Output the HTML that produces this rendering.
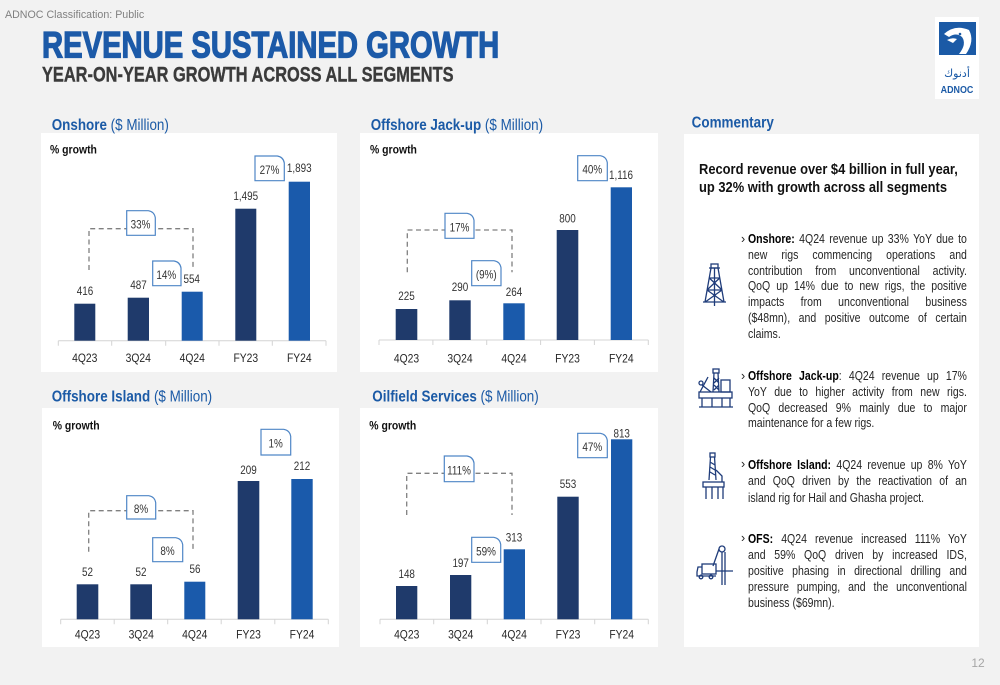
<!DOCTYPE html>
<html><head><meta charset="utf-8">
<style>
html,body{margin:0;padding:0;}
body{width:1000px;height:685px;background:#f2f2f2;position:relative;overflow:hidden;font-family:"Liberation Sans",sans-serif;}
svg{position:absolute;left:0;top:0;}
svg text{font-family:"Liberation Sans",sans-serif;}
.cat{font-size:12px;fill:#262626;text-anchor:middle;transform-box:fill-box;transform-origin:50% 50%;transform:scaleX(.86);}
.val{font-size:11.5px;fill:#333;text-anchor:middle;transform-box:fill-box;transform-origin:50% 50%;transform:scaleX(.86);}
.gr{font-size:12px;font-weight:bold;fill:#111;transform-box:fill-box;transform-origin:0 50%;transform:scaleX(.87);}
.tt{font-size:16px;fill:#1b5aa6;transform-box:fill-box;transform-origin:0 50%;transform:scaleX(.84);}
.tt tspan.b{font-weight:bold;}
.dk{fill:#1f3a6b;}
.lt{fill:#1a5aab;}
.bx{fill:#fff;stroke:#4f86c6;stroke-width:1.2;}
.br{fill:none;stroke:#808080;stroke-width:1.3;stroke-dasharray:5 3.5;}
.ax{stroke:#d4d4d4;stroke-width:1;fill:none;}
.ic{fill:none;stroke:#1f3c7a;stroke-width:1.3;}
.hl{position:absolute;left:699px;top:161px;font-weight:bold;font-size:15px;line-height:18.3px;color:#111;white-space:nowrap;transform:scaleX(.86);transform-origin:0 0;}
.p{position:absolute;left:748px;width:260px;font-size:12.5px;color:#262626;transform:scaleX(.842);transform-origin:0 0;}
.p div{text-align:justify;text-align-last:justify;white-space:normal;}
.p div.e{text-align-last:left;}
.p b{color:#000;}
.bu{position:absolute;left:741px;font-size:12.5px;color:#262626;}
</style></head>
<body>
<svg width="1000" height="685" viewBox="0 0 1000 685">
  <!-- header -->
  <text x="5" y="18" style="font-size:11px;fill:#808080;transform-box:fill-box;transform-origin:0 50%;transform:scaleX(.97)">ADNOC Classification: Public</text>
  <text x="42" y="57.3" style="font-size:37px;font-weight:bold;fill:#1c5aa8;stroke:#1c5aa8;stroke-width:1.3;transform-box:fill-box;transform-origin:0 50%;transform:scaleX(.79)">REVENUE SUSTAINED GROWTH</text>
  <text x="42" y="81.7" style="font-size:21px;font-weight:bold;fill:#3b3b3b;stroke:#3b3b3b;stroke-width:.4;transform-box:fill-box;transform-origin:0 50%;transform:scaleX(.78)">YEAR-ON-YEAR GROWTH ACROSS ALL SEGMENTS</text>

  <!-- logo -->
  <rect x="935" y="17" width="44" height="82" fill="#fff"/>
  <rect x="939" y="22" width="37" height="33" fill="#1b5aa6"/>
  <path d="M944 34 Q955 24 969 30 Q975 41 966 54 L959 54 Q967 44 962 37 Q956 32 949 37 Z" fill="#fff"/>
  <path d="M947 40 Q952 37 957 39 L953 43 Z" fill="#fff"/>
  <circle cx="960" cy="34" r="1.3" fill="#1b5aa6"/>
  <text x="957" y="77" text-anchor="middle" style="font-family:'DejaVu Sans',sans-serif;font-size:11px;fill:#1b5aa6">أدنوك</text>
  <text x="957" y="93" text-anchor="middle" style="font-size:10.5px;font-weight:bold;fill:#1b5aa6;transform-box:fill-box;transform-origin:50% 50%;transform:scaleX(.85)">ADNOC</text>

  <!-- panels -->
  <rect x="41" y="133" width="296" height="239" fill="#fff"/>
  <rect x="360" y="133" width="298" height="239" fill="#fff"/>
  <rect x="42" y="408" width="297" height="239" fill="#fff"/>
  <rect x="360" y="408" width="298" height="239" fill="#fff"/>
  <rect x="684" y="134" width="295" height="513" fill="#fff"/>

  <!-- titles -->
  <text class="tt" x="51.7" y="130"><tspan class="b">Onshore</tspan> ($ Million)</text>
  <text class="tt" x="370.7" y="130"><tspan class="b">Offshore Jack-up</tspan> ($ Million)</text>
  <text class="tt" x="51.7" y="401.4"><tspan class="b">Offshore Island</tspan> ($ Million)</text>
  <text class="tt" x="372.3" y="401.4"><tspan class="b">Oilfield Services</tspan> ($ Million)</text>
  <text class="tt" x="691.7" y="127.4"><tspan class="b">Commentary</tspan></text>

  <!-- ===== Onshore ===== -->
  <text class="gr" x="50" y="153.3">% growth</text>
  <path class="ax" d="M58.3 340.7 H326 M58.3 340.7 v5 M111.7 340.7 v5 M165.7 340.7 v5 M219 340.7 v5 M272.3 340.7 v5 M326 340.7 v5"/>
  <rect class="dk" x="74.3" y="303.7" width="21" height="37"/>
  <rect class="dk" x="127.7" y="297.7" width="21.3" height="43"/>
  <rect class="lt" x="181.7" y="291.7" width="21" height="49"/>
  <rect class="dk" x="235.3" y="208.7" width="21" height="132"/>
  <rect class="lt" x="288.7" y="181.7" width="21.3" height="159"/>
  <text class="val" x="85" y="295.2">416</text>
  <text class="val" x="138.5" y="289.2">487</text>
  <text class="val" x="191.7" y="283.2">554</text>
  <text class="val" x="245.8" y="200.2">1,495</text>
  <text class="val" x="299.3" y="172.2">1,893</text>
  <path class="br" d="M89 270 V228.7 H193 V270"/>
  <path class="bx" d="M126.7 210.7 H148.3 Q154.3 211.7 155.3 217.7 V235.3 H126.7Z"/>
  <text class="val" x="140.5" y="228.4">33%</text>
  <path class="bx" d="M152.7 261 H174 Q180 262 181 268 V285.7 H152.7Z"/>
  <text class="val" x="166.3" y="278.8">14%</text>
  <path class="bx" d="M255 156 H277.3 Q283.3 157 284.3 163 V180.7 H255Z"/>
  <text class="val" x="269.5" y="173.8">27%</text>
  <text class="cat" x="84.8" y="362.1">4Q23</text>
  <text class="cat" x="138.3" y="362.1">3Q24</text>
  <text class="cat" x="192.2" y="362.1">4Q24</text>
  <text class="cat" x="245.8" y="362.1">FY23</text>
  <text class="cat" x="299.3" y="362.1">FY24</text>

  <!-- ===== Offshore Jack-up ===== -->
  <text class="gr" x="370" y="153.6">% growth</text>
  <path class="ax" d="M379 340 H648.3 M379 340 v5 M432.9 340 v5 M486.7 340 v5 M540.6 340 v5 M594.4 340 v5 M648.3 340 v5"/>
  <rect class="dk" x="395.7" y="309" width="21.6" height="31"/>
  <rect class="dk" x="449.3" y="300.3" width="21.4" height="39.7"/>
  <rect class="lt" x="503.3" y="303.3" width="21.4" height="36.7"/>
  <rect class="dk" x="556.7" y="230" width="21.6" height="110"/>
  <rect class="lt" x="610.7" y="187.3" width="21.3" height="152.7"/>
  <text class="val" x="406.5" y="299.9">225</text>
  <text class="val" x="460" y="291.2">290</text>
  <text class="val" x="514" y="295.9">264</text>
  <text class="val" x="567.5" y="222.5">800</text>
  <text class="val" x="621" y="179.2">1,116</text>
  <path class="br" d="M407.3 272.3 V230 H512 V272.3"/>
  <path class="bx" d="M445 213.3 H467 Q473 214.3 474 220.3 V238.3 H445Z"/>
  <text class="val" x="459.5" y="231.3">17%</text>
  <path class="bx" d="M471.7 260.7 H494 Q500 261.7 501 267.7 V285.7 H471.7Z"/>
  <text class="val" x="486.3" y="278.7">(9%)</text>
  <path class="bx" d="M577.7 155.7 H600.3 Q606.3 156.7 607.3 162.7 V180.7 H577.7Z"/>
  <text class="val" x="592.3" y="173.7">40%</text>
  <text class="cat" x="406.5" y="362.7">4Q23</text>
  <text class="cat" x="460" y="362.7">3Q24</text>
  <text class="cat" x="514" y="362.7">4Q24</text>
  <text class="cat" x="567.5" y="362.7">FY23</text>
  <text class="cat" x="621.3" y="362.7">FY24</text>

  <!-- ===== Offshore Island ===== -->
  <text class="gr" x="52.7" y="429.3">% growth</text>
  <path class="ax" d="M60.7 619.3 H328.3 M60.7 619.3 v5 M114.2 619.3 v5 M167.7 619.3 v5 M221.2 619.3 v5 M274.8 619.3 v5 M328.3 619.3 v5"/>
  <rect class="dk" x="76.7" y="584.3" width="21.6" height="35"/>
  <rect class="dk" x="130.3" y="584.3" width="21.7" height="35"/>
  <rect class="lt" x="184.3" y="581.7" width="21" height="37.6"/>
  <rect class="dk" x="237.7" y="481" width="21.6" height="138.3"/>
  <rect class="lt" x="291.3" y="479" width="21.4" height="140.3"/>
  <text class="val" x="87.5" y="575.9">52</text>
  <text class="val" x="141" y="575.9">52</text>
  <text class="val" x="195" y="573.2">56</text>
  <text class="val" x="248.5" y="474.2">209</text>
  <text class="val" x="302" y="470.2">212</text>
  <path class="br" d="M88.7 551.7 V510.7 H193 V551.7"/>
  <path class="bx" d="M126.7 495.7 H148.7 Q154.7 496.7 155.7 502.7 V519 H126.7Z"/>
  <text class="val" x="141" y="512.8">8%</text>
  <path class="bx" d="M152.7 537.7 H175.7 Q181.7 538.7 182.7 544.7 V561.7 H152.7Z"/>
  <text class="val" x="167.5" y="555.2">8%</text>
  <path class="bx" d="M261 429.3 H283.7 Q289.7 430.3 290.7 436.3 V455 H261Z"/>
  <text class="val" x="275.6" y="447.7">1%</text>
  <text class="cat" x="87.5" y="638.7">4Q23</text>
  <text class="cat" x="141.2" y="638.7">3Q24</text>
  <text class="cat" x="194.8" y="638.7">4Q24</text>
  <text class="cat" x="248.5" y="638.7">FY23</text>
  <text class="cat" x="302" y="638.7">FY24</text>

  <!-- ===== Oilfield Services ===== -->
  <text class="gr" x="369.3" y="429.3">% growth</text>
  <path class="ax" d="M380 619.3 H648.3 M380 619.3 v5 M433.7 619.3 v5 M487.3 619.3 v5 M541 619.3 v5 M594.7 619.3 v5 M648.3 619.3 v5"/>
  <rect class="dk" x="396" y="586" width="21.3" height="33.3"/>
  <rect class="dk" x="450" y="575" width="21.3" height="44.3"/>
  <rect class="lt" x="503.7" y="549.3" width="21.3" height="70"/>
  <rect class="dk" x="557.3" y="496.7" width="21.4" height="122.6"/>
  <rect class="lt" x="611" y="439.3" width="21.3" height="180"/>
  <text class="val" x="406.7" y="578.2">148</text>
  <text class="val" x="460.7" y="566.9">197</text>
  <text class="val" x="514" y="541.5">313</text>
  <text class="val" x="568" y="488.2">553</text>
  <text class="val" x="621.7" y="437.5">813</text>
  <path class="br" d="M406.7 515 V473.3 H512 V515"/>
  <path class="bx" d="M444.3 456 H467 Q473 457 474 463 V481.7 H444.3Z"/>
  <text class="val" x="459" y="474.3">111%</text>
  <path class="bx" d="M471.7 537.3 H493.7 Q499.7 538.3 500.7 544.3 V562.3 H471.7Z"/>
  <text class="val" x="486" y="555.3">59%</text>
  <path class="bx" d="M577.7 433.3 H600.3 Q606.3 434.3 607.3 440.3 V457.7 H577.7Z"/>
  <text class="val" x="592.3" y="451">47%</text>
  <text class="cat" x="406.7" y="638.7">4Q23</text>
  <text class="cat" x="460.7" y="638.7">3Q24</text>
  <text class="cat" x="514.3" y="638.7">4Q24</text>
  <text class="cat" x="568" y="638.7">FY23</text>
  <text class="cat" x="621.7" y="638.7">FY24</text>

  <!-- icons -->
  <g class="ic">
    <rect x="711" y="264" width="7" height="4"/>
    <path d="M709 268 H720 M711 268 L705 302 M718 268 L724 302 M709 278 H720 M707 290 H722 M709.3 278 L722 290 M719.7 278 L707 290 M707 290 L723.8 302 M722 290 L705.2 302 M703 302 H726 M714.5 268 V306"/>
    <rect x="713" y="369" width="6" height="4"/>
    <path d="M714 373 L713 392 M718 373 L719 392 M714 378 L719 383 M719 378 L714 383 M714 385 L719 390 M719 385 L714 390"/>
    <rect x="721" y="380" width="9" height="12"/>
    <path d="M700 392 L708 377 M702 385 L711 392"/>
    <circle cx="701" cy="383" r="2"/>
    <rect x="699" y="392" width="33" height="6"/>
    <path d="M702 398 V407 M712 398 V407 M722 398 V407 M730 398 V407 M699 407 H733"/>
    <rect x="710" y="453" width="5" height="4"/>
    <path d="M710.5 457 L709 480 M714.5 457 L716 480 M710 462 L715 465 M710 467 L715 470 M710 472 L715 475 M716 470 L722 476 L722 482"/>
    <rect x="703" y="482" width="21" height="5"/>
    <path d="M706 487 V499 M712 487 V499 M718 487 V499 M723 487 V499"/>
    <circle cx="722" cy="549" r="3"/>
    <path d="M722 552 V585 M725 552 V585 M716 571 H733 M719 549 L713 566"/>
    <rect x="702" y="564" width="14" height="10"/>
    <path d="M702 567 H698 L697 572 V576 H716"/>
    <circle cx="701" cy="577" r="1.8"/>
    <circle cx="711" cy="577" r="1.8"/>
  </g>

  <text x="978" y="667" text-anchor="middle" style="font-size:12px;fill:#a6a6a6">12</text>
</svg>

<div class="hl">Record revenue over $4 billion in full year,<br>up 32% with growth across all segments</div>

<div class="bu" style="top:232px">›</div>
<div class="p" style="top:232px;line-height:15.8px">
<div><b>Onshore:</b> 4Q24 revenue up 33% YoY due to</div>
<div>new rigs commencing operations and</div>
<div>contribution from unconventional activity.</div>
<div>QoQ up 14% due to new rigs, the positive</div>
<div>impacts from unconventional business</div>
<div>($48mn), and positive outcome of certain</div>
<div class="e">claims.</div>
</div>

<div class="bu" style="top:368.7px">›</div>
<div class="p" style="top:368.7px;line-height:15.9px">
<div><b>Offshore Jack-up</b>: 4Q24 revenue up 17%</div>
<div>YoY due to higher activity from new rigs.</div>
<div>QoQ decreased 9% mainly due to major</div>
<div class="e">maintenance for a few rigs.</div>
</div>

<div class="bu" style="top:457px">›</div>
<div class="p" style="top:457px;line-height:16.3px">
<div><b>Offshore Island:</b> 4Q24 revenue up 8% YoY</div>
<div>and QoQ driven by the reactivation of an</div>
<div class="e">island rig for Hail and Ghasha project.</div>
</div>

<div class="bu" style="top:531px">›</div>
<div class="p" style="top:531px;line-height:16.1px">
<div><b>OFS:</b> 4Q24 revenue increased 111% YoY</div>
<div>and 59% QoQ driven by increased IDS,</div>
<div>positive phasing in directional drilling and</div>
<div>pressure pumping, and the unconventional</div>
<div class="e">business ($69mn).</div>
</div>
</body></html>
